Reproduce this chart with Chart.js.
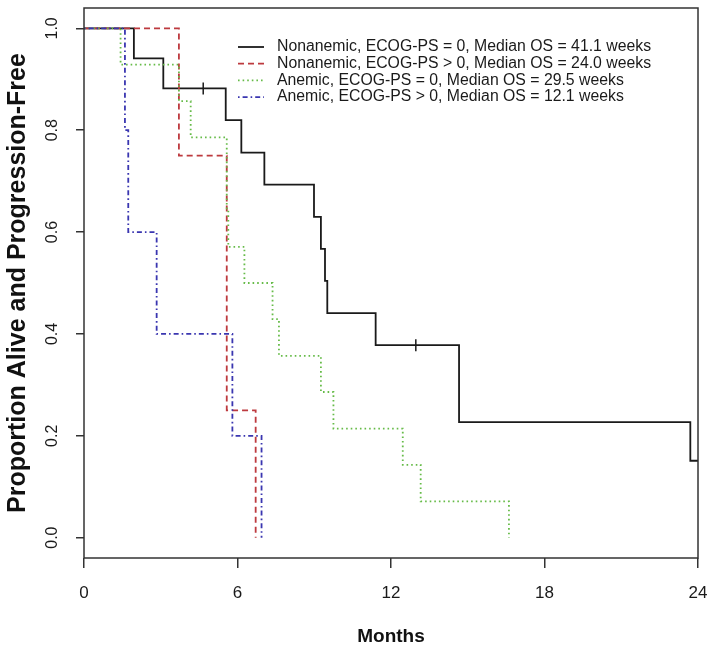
<!DOCTYPE html>
<html>
<head>
<meta charset="utf-8">
<script src="https://cdn.jsdelivr.net/npm/chart.js@4/dist/chart.umd.min.js"></script>
<style>
  html, body { margin: 0; padding: 0; background: #fff; }
  #wrap { width: 714px; height: 649px; }
</style>
</head>
<body>
<div id="wrap"><canvas id="km"></canvas></div>
<script>
// time in months, survival proportion after the step
const tNonAnem0 = [0, 1.95, 3.1, 5.54, 6.15, 7.05, 8.99, 9.26, 9.42, 9.51, 11.4, 14.66, 23.7, 24];
const sNonAnem0 = [1, 0.941, 0.882, 0.82, 0.756, 0.693, 0.63, 0.567, 0.504, 0.441, 0.378, 0.227, 0.151, 0.151];
const tNonAnem1 = [0, 3.71, 5.58, 6.71];
const sNonAnem1 = [1, 0.75, 0.25, 0];
const tAnem0 = [0, 1.43, 3.71, 4.17, 5.58, 5.64, 6.27, 7.37, 7.62, 9.26, 9.75, 12.46, 13.16, 16.61];
const sAnem0 = [1, 0.929, 0.857, 0.786, 0.643, 0.571, 0.5, 0.429, 0.357, 0.286, 0.214, 0.143, 0.071, 0];
const tAnem1 = [0, 1.6, 1.73, 2.84, 5.8, 6.94];
const sAnem1 = [1, 0.8, 0.6, 0.4, 0.2, 0];
// censored observations (black curve)
const tCensor = [4.66, 12.97];
const sCensor = [0.882, 0.378];

const labels = [
  'Nonanemic, ECOG-PS = 0, Median OS = 41.1 weeks',
  'Nonanemic, ECOG-PS > 0, Median OS = 24.0 weeks',
  'Anemic, ECOG-PS = 0, Median OS = 29.5 weeks',
  'Anemic, ECOG-PS > 0, Median OS = 12.1 weeks'
];
const xTicks = [0, 6, 12, 18, 24];
const yTicks = [0, 0.2, 0.4, 0.6, 0.8, 1.0];

function pts(t, s) {
  return t.map((v, i) => ({ x: v, y: s[i] }));
}

const boxPlugin = {
  id: 'box',
  afterDraw(chart) {
    const c = chart.ctx, a = chart.chartArea;
    c.save();
    c.strokeStyle = '#333';
    c.lineWidth = 1.5;
    c.strokeRect(a.left, a.top, a.right - a.left, a.bottom - a.top);
    c.restore();
  }
};

const legendPlugin = {
  id: 'kmLegend',
  afterDatasetsDraw(chart) {
    const c = chart.ctx;
    c.save();
    c.font = '15.8px "Liberation Sans", Arial, sans-serif';
    c.textBaseline = 'middle';
    c.fillStyle = '#1a1a1a';
    for (let i = 0; i < 4; i++) {
      const ds = chart.data.datasets[i];
      const y = 47 + i * 16.7;
      c.strokeStyle = ds.borderColor;
      c.lineWidth = ds.borderWidth;
      c.setLineDash(ds.borderDash || []);
      c.beginPath();
      c.moveTo(238, y);
      c.lineTo(264, y);
      c.stroke();
      c.setLineDash([]);
      c.fillText(ds.label, 277, y);
    }
    c.restore();
  }
};

const ctx = document.getElementById('km').getContext('2d');
new Chart(ctx, {
  type: 'line',
  data: {
    datasets: [
      { label: labels[0], data: pts(tNonAnem0, sNonAnem0), borderColor: '#1a1a1a', borderWidth: 1.8, stepped: true, order: 4 },
      { label: labels[1], data: pts(tNonAnem1, sNonAnem1), borderColor: '#bd3a3f', borderWidth: 1.8, borderDash: [6, 4], stepped: true, order: 3 },
      { label: labels[2], data: pts(tAnem0, sAnem0), borderColor: '#66bb48', borderWidth: 1.8, borderDash: [1.6, 3], stepped: true, order: 2 },
      { label: labels[3], data: pts(tAnem1, sAnem1), borderColor: '#3a36b0', borderWidth: 1.8, borderDash: [1.6, 3, 5, 3], stepped: true, order: 1 },
      { label: 'censored', type: 'scatter', data: pts(tCensor, sCensor), showLine: false,
        pointStyle: 'line', rotation: 90, pointRadius: 6, borderColor: '#1a1a1a', borderWidth: 1.5, order: 0 }
    ]
  },
  options: {
    responsive: true,
    maintainAspectRatio: false,
    animation: false,
    layout: { padding: { top: 8, right: 16, left: 0, bottom: 0 } },
    elements: { point: { radius: 0 }, line: { fill: false, tension: 0 } },
    plugins: { legend: { display: false }, tooltip: { enabled: false } },
    scales: {
      x: {
        type: 'linear',
        min: 0, max: 24,
        afterBuildTicks: s => { s.ticks = xTicks.map(v => ({ value: v })); },
        afterFit: s => { s.height = 91; s.paddingLeft = 0; s.paddingRight = 0; },
        border: { display: false },
        grid: { drawOnChartArea: false, drawTicks: true, tickLength: 10, color: '#333', lineWidth: 1.5 },
        ticks: { color: '#1a1a1a', padding: 15, font: { family: '"Liberation Sans", Arial, sans-serif', size: 17 } },
        title: { display: true, text: 'Months', color: '#111', padding: { top: 0, bottom: 1 },
          font: { family: '"Liberation Sans", Arial, sans-serif', size: 19, weight: 'bold' } }
      },
      y: {
        type: 'linear',
        min: -0.04, max: 1.04,
        afterBuildTicks: s => { s.ticks = yTicks.map(v => ({ value: v })); },
        afterFit: s => { s.width = 84; s.paddingTop = 0; s.paddingBottom = 0; },
        border: { display: false },
        grid: { drawOnChartArea: false, drawTicks: true, tickLength: 8, color: '#333', lineWidth: 1.5 },
        ticks: { color: '#1a1a1a', padding: 12, crossAlign: 'center', minRotation: 90, maxRotation: 90,
          callback: v => v.toFixed(1),
          font: { family: '"Liberation Sans", Arial, sans-serif', size: 16 } },
        title: { display: true, text: 'Proportion Alive and Progression-Free', color: '#111', padding: { top: 3, bottom: 0 },
          font: { family: '"Liberation Sans", Arial, sans-serif', size: 25, weight: 'bold' } }
      }
    }
  },
  plugins: [boxPlugin, legendPlugin]
});
</script>
</body>
</html>
